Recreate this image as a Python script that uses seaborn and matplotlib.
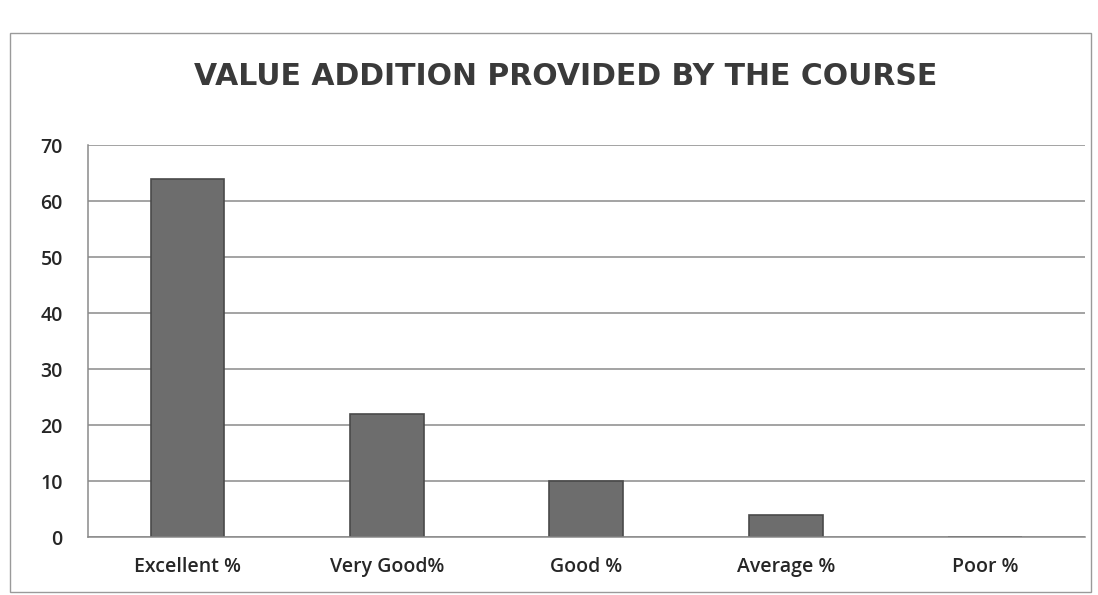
import matplotlib
matplotlib.use("Agg")
import pandas as pd
import seaborn as sns
from matplotlib import pyplot as plt
from matplotlib.patches import Rectangle

categories = ["Excellent %", "Very Good%", "Good %", "Average %", "Poor %"]
percent = [64, 22, 10, 4, 0]
y_ticks = [0, 10, 20, 30, 40, 50, 60, 70]

df = pd.DataFrame({"rating": categories, "percent": percent})

sns.set_style("white")
plt.rcParams["font.family"] = ["Open Sans", "DejaVu Sans"]

fig = plt.figure(figsize=(10.98, 5.95), dpi=100)
ax = fig.add_axes([0.080, 0.097, 0.908, 0.659])

sns.barplot(data=df, x="rating", y="percent", color="#6d6d6d", width=0.37,
            edgecolor="#4a4a4a", linewidth=1.2, saturation=1, ax=ax)

ax.set_ylim(0, 70)
ax.set_xlim(-0.5, len(categories) - 0.5)
ax.set_yticks(y_ticks)
ax.yaxis.grid(True, color="#8a8a8a", linewidth=1.1)
ax.set_axisbelow(True)
for s in ["top", "right"]:
    ax.spines[s].set_visible(False)
ax.spines["left"].set_color("#8a8a8a")
ax.spines["bottom"].set_color("#8a8a8a")
ax.spines["left"].set_linewidth(1.1)
ax.spines["bottom"].set_linewidth(1.1)

# ticks between categories on the x axis
ax.set_xticks(range(len(categories)))
ax.set_xticklabels(categories, fontsize=14, color="#262626", fontweight="semibold")
ax.set_xticks([i + 0.5 for i in range(-1, len(categories))], minor=True)
ax.tick_params(axis="x", which="major", length=0, pad=14)
ax.tick_params(axis="x", which="minor", length=6, color="#8a8a8a", direction="out")
ax.tick_params(axis="y", length=6, color="#8a8a8a", labelsize=14, labelcolor="#262626", pad=12)
for lab in ax.get_yticklabels():
    lab.set_fontweight("semibold")
ax.set_xlabel("")
ax.set_ylabel("")

fig.text(0.515, 0.872, "VALUE ADDITION PROVIDED BY THE COURSE", ha="center", va="center",
         fontsize=21.5, fontweight="bold", color="#3a3a3a", family=["DejaVu Sans"])

# chart frame
fig.patches.append(Rectangle((0.009, 0.005), 0.985, 0.94, transform=fig.transFigure,
                             fill=False, edgecolor="#9a9a9a", linewidth=1.0))

fig.savefig("out.png", dpi=100)
